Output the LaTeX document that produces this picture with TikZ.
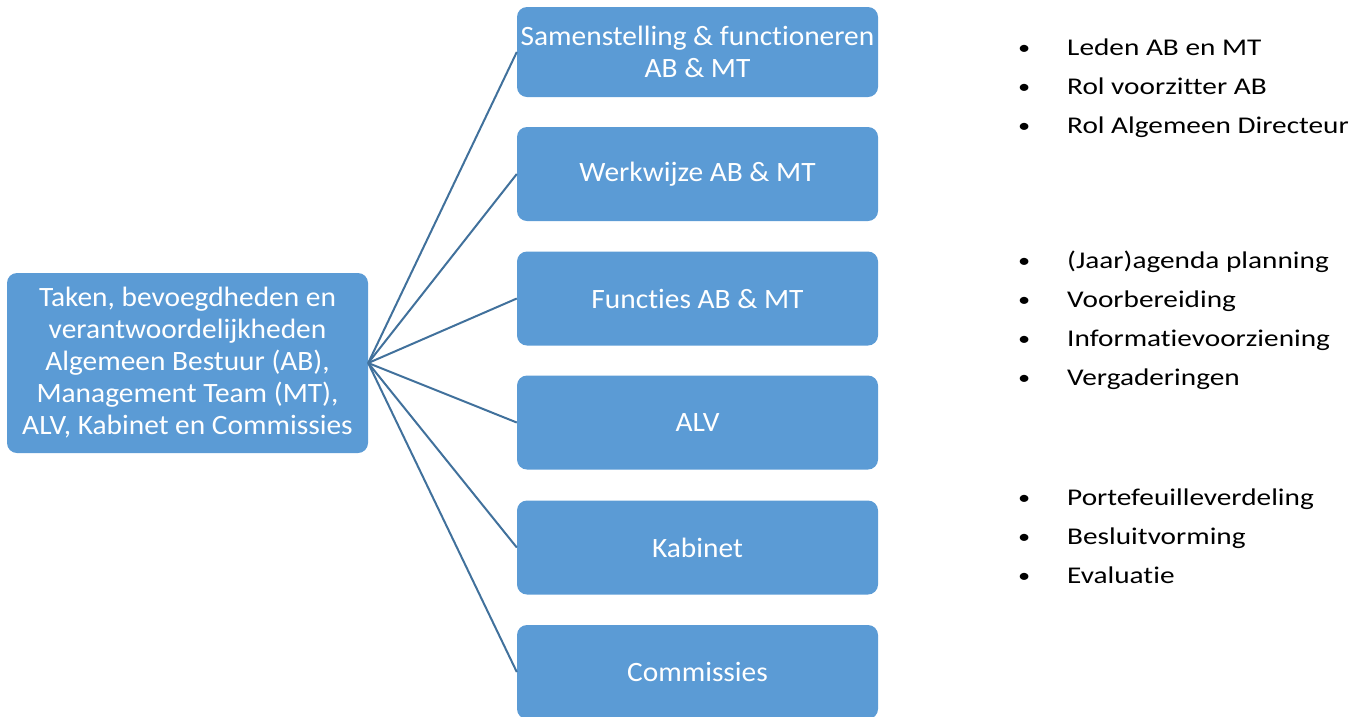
\documentclass[tikz,border=0pt]{standalone}
\usepackage{fontspec}
\setmainfont{Carlito}[Ligatures={NoCommon}]
\newfontfamily\boxfont{Carlito}[Ligatures={NoCommon},FakeStretch=1.05]
\newfontfamily\listfont{Carlito}[Ligatures={NoCommon},FakeStretch=1.22]
\definecolor{boxblue}{HTML}{5B9BD5}
\definecolor{lineblue}{HTML}{41719C}
\newcommand{\bitem}{\makebox[49pt][l]{\raisebox{1pt}{\fontsize{20}{20}\selectfont •}}}
\begin{document}
\begin{tikzpicture}[x=1pt,y=-1pt,
  box/.style={draw=none,fill=boxblue,rounded corners=10pt,text=white,inner sep=0pt,align=center,
    font=\boxfont\fontsize{28}{32}\selectfont},
  link/.style={draw=lineblue,line width=2pt},
  blist/.style={anchor=west,align=left,inner sep=0pt,text=black,font=\listfont\fontsize{24}{39}\selectfont}]
\useasboundingbox (0,0) rectangle (1368,716);
\node[box,minimum width=361pt,minimum height=180pt] (main) at (187.5,363) {Taken, bevoegdheden en\\verantwoordelijkheden\\Algemeen Bestuur (AB),\\Management Team (MT),\\ALV, Kabinet en Commissies};
\node[box,minimum width=361pt,minimum height=90pt] (b1) at (697.5,52) {Samenstelling \& functioneren\\AB \& MT};
\node[box,minimum width=361pt,minimum height=94pt] (b2) at (697.5,174) {Werkwijze AB \& MT};
\node[box,minimum width=361pt,minimum height=94pt] (b3) at (697.5,298.5) {Functies AB \& MT};
\node[box,minimum width=361pt,minimum height=94pt] (b4) at (697.5,422.5) {ALV};
\node[box,minimum width=361pt,minimum height=94pt] (b5) at (697.5,547.5) {Kabinet};
\node[box,minimum width=361pt,minimum height=94pt] (b6) at (697.5,672) {Commissies};
\foreach \b in {b1,b2,b3,b4,b5,b6}
  \draw[link] (main.east) -- (\b.west);
\node[blist] (l1) at (1018,88) {\bitem Leden AB en MT\\\bitem Rol voorzitter AB\\\bitem Rol Algemeen Directeur};
\node[blist] (l2) at (1018,320) {\bitem (Jaar)agenda planning\\\bitem Voorbereiding\\\bitem Informatievoorziening\\\bitem Vergaderingen};
\node[blist] (l3) at (1018,536) {\bitem Portefeuilleverdeling\\\bitem Besluitvorming\\\bitem Evaluatie};
\end{tikzpicture}
\end{document}
